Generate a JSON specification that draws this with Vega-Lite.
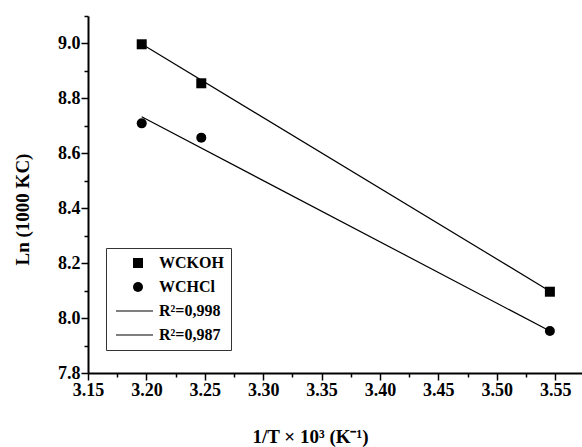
{
  "$schema": "https://vega.github.io/schema/vega-lite/v6.json",
  "width": 494,
  "height": 357,
  "autosize": "none",
  "padding": {"left": 88, "top": 16, "right": 0, "bottom": 74},
  "background": "white",
  "config": {
    "font": "Liberation Serif",
    "view": {"stroke": null},
    "style": {
      "guide-label": {"font": "Liberation Serif", "fontWeight": "bold", "fill": "black"}
    }
  },
  "datasets": {
    "pts": [
      {"x": 3.196, "y": 8.997, "series": "WCKOH"},
      {"x": 3.247, "y": 8.855, "series": "WCKOH"},
      {"x": 3.5455, "y": 8.096, "series": "WCKOH"},
      {"x": 3.196, "y": 8.709, "series": "WCHCl"},
      {"x": 3.247, "y": 8.657, "series": "WCHCl"},
      {"x": 3.5455, "y": 7.953, "series": "WCHCl"}
    ],
    "fit": [
      {"x": 3.196, "y": 8.998, "fit": "R²=0,998"},
      {"x": 3.5455, "y": 8.098, "fit": "R²=0,998"},
      {"x": 3.196, "y": 8.733, "fit": "R²=0,987"},
      {"x": 3.5455, "y": 7.953, "fit": "R²=0,987"}
    ]
  },
  "layer": [
    {
      "data": {"name": "fit"},
      "mark": {"type": "line", "color": "black", "strokeWidth": 1.2},
      "encoding": {
        "x": {
          "field": "x",
          "type": "quantitative",
          "scale": {"domain": [3.15, 3.573], "nice": false, "zero": false},
          "axis": {
            "orient": "bottom",
            "grid": false,
            "title": "1/T × 10³ (K⁻¹)",
            "titleFont": "Liberation Serif",
            "titleFontWeight": "bold",
            "titleColor": "black",
            "titleFontSize": 19,
            "titleX": 222,
            "titleY": 69,
            "titleBaseline": "alphabetic",
            "titleAlign": "center",
            "values": [3.15, 3.2, 3.25, 3.3, 3.35, 3.4, 3.45, 3.5, 3.55],
            "format": ".2f",
            "labelFont": "Liberation Serif",
            "labelFontSize": 18,
            "labelFontWeight": "bold",
            "labelColor": "black",
            "labelFlush": false,
            "labelOverlap": false,
            "labelPadding": 1,
            "domainColor": "black",
            "domainWidth": 2,
            "tickColor": "black",
            "tickWidth": 1.5,
            "tickSize": 7
          }
        },
        "y": {
          "field": "y",
          "type": "quantitative",
          "scale": {"domain": [7.8, 9.1], "nice": false, "zero": false},
          "axis": {
            "orient": "left",
            "grid": false,
            "title": "Ln (1000 KC)",
            "titleFont": "Liberation Serif",
            "titleFontWeight": "bold",
            "titleColor": "black",
            "titleFontSize": 19,
            "titleX": -60,
            "titleY": 193,
            "titleAngle": -90,
            "titleBaseline": "alphabetic",
            "titleAlign": "center",
            "values": [7.8, 8.0, 8.2, 8.4, 8.6, 8.8, 9.0],
            "format": ".1f",
            "labelFont": "Liberation Serif",
            "labelFontSize": 18,
            "labelFontWeight": "bold",
            "labelColor": "black",
            "labelFlush": false,
            "labelOverlap": false,
            "labelPadding": 1,
            "domainColor": "black",
            "domainWidth": 2,
            "tickColor": "black",
            "tickWidth": 1.5,
            "tickSize": 7
          }
        },
        "detail": {"field": "fit", "type": "nominal"}
      }
    },
    {
      "data": {"name": "pts"},
      "mark": {"type": "point", "filled": true, "opacity": 1, "size": 100, "color": "black"},
      "encoding": {
        "x": {
          "field": "x",
          "type": "quantitative",
          "axis": {
            "orient": "bottom",
            "grid": false,
            "title": null,
            "labels": false,
            "domain": false,
            "values": [3.175, 3.225, 3.275, 3.325, 3.375, 3.425, 3.475, 3.525],
            "tickColor": "black",
            "tickWidth": 1.5,
            "tickSize": 4
          }
        },
        "y": {
          "field": "y",
          "type": "quantitative",
          "axis": {
            "orient": "left",
            "grid": false,
            "title": null,
            "labels": false,
            "domain": false,
            "values": [7.9, 8.1, 8.3, 8.5, 8.7, 8.9, 9.1],
            "tickColor": "black",
            "tickWidth": 1.5,
            "tickSize": 4
          }
        },
        "shape": {
          "field": "series",
          "type": "nominal",
          "scale": {
            "domain": ["WCKOH", "WCHCl", "R²=0,998", "R²=0,987"],
            "range": ["square", "circle", "M-4.4,-0.12H3V0.12H-4.4Z", "M-4.4,-0.12H3V0.12H-4.4Z"]
          },
          "legend": {
            "title": null,
            "orient": "none",
            "legendX": 18,
            "legendY": 232,
            "padding": 7,
            "strokeColor": "#333",
            "fillColor": "white",
            "labelFont": "Liberation Serif",
            "labelFontSize": 16,
            "labelFontWeight": "bold",
            "labelColor": "black",
            "labelOffset": 13,
            "symbolOffset": 17,
            "symbolSize": 100,
            "rowPadding": 8,
            "symbolFillColor": "black",
            "symbolStrokeColor": "black",
            "symbolStrokeWidth": 0
          }
        }
      }
    }
  ],
  "resolve": {"axis": {"x": "independent", "y": "independent"}}
}
